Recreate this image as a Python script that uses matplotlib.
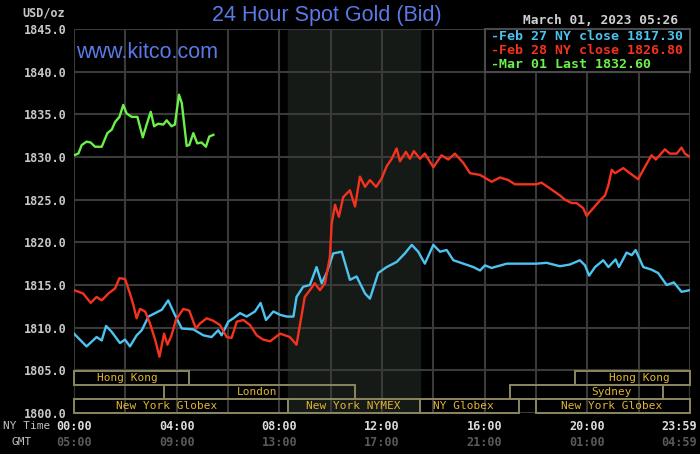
import matplotlib
matplotlib.use('Agg')
import matplotlib.pyplot as plt
import matplotlib.patches as mpatches

# Feb 27 NY close 1817.30 (голубая линия)
feb27_hours = [0.0, 0.49, 0.88, 1.08, 1.25, 1.47, 1.79, 1.99, 2.18, 2.44, 2.64, 2.9, 3.16, 3.42,
               3.67, 3.93, 4.2, 4.65, 5.04, 5.36, 5.62, 5.75, 6.01, 6.21, 6.47, 6.73, 7.05, 7.27,
               7.48, 7.77, 8.03, 8.3, 8.55, 8.67, 8.93, 9.19, 9.45, 9.65, 9.84, 10.1, 10.43,
               10.75, 11.01, 11.34, 11.53, 11.85, 12.18, 12.57, 12.89, 13.16, 13.41, 13.67,
               14.0, 14.26, 14.52, 14.78, 15.17, 15.56, 15.82, 16.01, 16.27, 16.86, 18.02,
               18.41, 18.93, 19.32, 19.71, 19.91, 20.07, 20.3, 20.62, 20.82, 21.1, 21.23,
               21.53, 21.73, 21.88, 22.18, 22.5, 22.76, 23.09, 23.37, 23.67, 24.0]
feb27_price = [1809.3, 1807.8, 1808.9, 1808.5, 1810.2, 1809.5, 1808.2, 1808.6, 1807.8, 1809.1,
               1809.7, 1811.3, 1811.7, 1812.1, 1813.2, 1811.5, 1809.9, 1809.8, 1809.1, 1808.9,
               1809.7, 1809.1, 1810.7, 1811.1, 1811.7, 1811.3, 1811.9, 1812.9, 1810.9, 1811.9,
               1811.5, 1811.3, 1811.3, 1813.6, 1814.8, 1815.0, 1817.1, 1815.2, 1816.4, 1818.7,
               1818.9, 1815.6, 1816.0, 1814.0, 1813.4, 1816.4, 1817.1, 1817.7, 1818.7, 1819.7,
               1818.9, 1817.5, 1819.7, 1818.9, 1819.1, 1817.9, 1817.5, 1817.1, 1816.7, 1817.3,
               1817.0, 1817.5, 1817.5, 1817.6, 1817.2, 1817.4, 1817.9, 1817.3, 1816.1, 1817.1,
               1817.9, 1817.1, 1818.0, 1817.1, 1818.8, 1818.5, 1819.1, 1817.1, 1816.8, 1816.4,
               1815.0, 1815.3, 1814.2, 1814.4]

# Feb 28 NY close 1826.80 (красная линия)
feb28_hours = [0.0, 0.36, 0.65, 0.88, 1.08, 1.34, 1.6, 1.77, 1.99, 2.18, 2.31, 2.44, 2.57, 2.77,
               2.96, 3.16, 3.33, 3.51, 3.64, 3.8, 3.97, 4.26, 4.49, 4.75, 4.91, 5.17, 5.43,
               5.69, 5.95, 6.14, 6.34, 6.6, 6.86, 7.12, 7.37, 7.64, 8.03, 8.41, 8.67, 8.86,
               8.99, 9.19, 9.38, 9.58, 9.78, 9.97, 10.04, 10.17, 10.32, 10.49, 10.75, 10.95,
               11.14, 11.34, 11.53, 11.77, 11.99, 12.18, 12.38, 12.57, 12.7, 12.93, 13.09,
               13.24, 13.48, 13.67, 14.0, 14.32, 14.58, 14.84, 15.17, 15.43, 15.82, 16.27,
               16.6, 16.92, 17.18, 18.02, 18.21, 18.6, 18.93, 19.13, 19.39, 19.58, 19.84,
               19.97, 20.23, 20.49, 20.69, 20.82, 20.95, 21.08, 21.4, 21.66, 21.98, 22.18,
               22.5, 22.67, 23.02, 23.21, 23.48, 23.67, 23.8, 24.0]
feb28_price = [1814.4, 1814.0, 1812.9, 1813.6, 1813.2, 1814.0, 1814.6, 1815.8, 1815.7, 1814.0,
               1812.7, 1811.1, 1812.2, 1811.9, 1810.5, 1808.6, 1806.6, 1809.3, 1808.0, 1809.1,
               1810.9, 1812.2, 1812.0, 1809.9, 1810.5, 1811.1, 1810.8, 1810.3, 1808.9, 1808.8,
               1810.7, 1810.9, 1810.3, 1809.1, 1808.6, 1808.4, 1809.3, 1808.9, 1808.0, 1811.3,
               1813.6, 1814.4, 1815.2, 1814.4, 1815.2, 1818.3, 1822.2, 1824.4, 1823.0, 1825.3,
               1826.1, 1824.2, 1827.7, 1826.5, 1827.3, 1826.5, 1827.5, 1828.9, 1829.8, 1831.0,
               1829.5, 1830.6, 1829.8, 1830.7, 1829.8, 1830.4, 1828.8, 1830.2, 1829.7, 1830.4,
               1829.3, 1828.1, 1827.9, 1827.1, 1827.6, 1827.3, 1826.8, 1826.8, 1827.0, 1826.2,
               1825.5, 1825.0, 1824.6, 1824.6, 1824.0, 1823.1, 1824.0, 1824.9, 1825.5, 1826.7,
               1828.5, 1828.1, 1828.7, 1828.1, 1827.4, 1828.5, 1830.2, 1829.7, 1830.9, 1830.4,
               1830.4, 1831.1, 1830.4, 1830.0]

# Mar 01 Last 1832.60 (зелёная линия, до 05:26)
mar01_hours = [0.0, 0.17, 0.3, 0.49, 0.65, 0.82, 1.08, 1.3, 1.47, 1.6, 1.77, 1.92, 2.05, 2.25,
               2.47, 2.68, 2.83, 2.99, 3.12, 3.28, 3.48, 3.61, 3.8, 3.93, 4.09, 4.2, 4.39,
               4.49, 4.65, 4.8, 4.97, 5.14, 5.27, 5.43]
mar01_price = [1830.2, 1830.4, 1831.4, 1831.8, 1831.7, 1831.2, 1831.2, 1832.8, 1833.2, 1834.1,
               1834.7, 1836.1, 1835.1, 1834.7, 1834.7, 1832.3, 1833.8, 1835.3, 1833.6, 1833.9,
               1833.8, 1834.3, 1833.6, 1833.8, 1837.3, 1836.3, 1831.3, 1831.4, 1832.8, 1831.6,
               1831.7, 1831.2, 1832.4, 1832.6]

legend_labels = ['-Feb 27 NY close 1817.30', '-Feb 28 NY close 1826.80', '-Mar 01 Last 1832.60']

ny_ticks = ['00:00', '04:00', '08:00', '12:00', '16:00', '20:00', '23:59']
gmt_ticks = ['05:00', '09:00', '13:00', '17:00', '21:00', '01:00', '04:59']
tick_hours = [0, 4, 8, 12, 16, 20, 24]

# торговые сессии: название, ряд (0 - верхний), начало, конец, позиция подписи
sess_names = ['Hong Kong', 'London', 'New York Globex', 'New York NYMEX', 'NY Globex',
              'Hong Kong', 'Sydney', 'New York Globex']
sess_rows = [0, 1, 2, 2, 2, 0, 1, 2]
sess_start = [0.0, 3.5, 0.0, 8.33, 13.5, 19.5, 17.0, 18.0]
sess_end = [4.47, 10.95, 8.33, 13.5, 17.33, 24.0, 22.95, 24.0]
sess_label = [2.09, 7.15, 3.61, 10.88, 15.17, 22.04, 20.95, 20.95]

blue_c = '#4cc3f0'
red_c = '#f5321e'
green_c = '#6cf04a'
grid_c = '#3a3a3a'
box_c = '#8a8760'
sess_txt_c = '#e0b535'
mono = 'DejaVu Sans Mono'

fig = plt.figure(figsize=(7, 4.54), dpi=100, facecolor='black')
ax = fig.add_axes([74 / 700, 1 - 413 / 454, 616 / 700, 384 / 454])
ax.set_facecolor('black')
ax.set_xlim(0, 24)
ax.set_ylim(1800, 1845)

# NYMEX часы
ax.axvspan(8.33, 13.5, color='#161a16', zorder=0)

ax.set_xticks(range(0, 25, 2))
ax.set_yticks(range(1800, 1846, 5))
ax.grid(True, color=grid_c, linewidth=1.5, zorder=1)
ax.tick_params(length=0, labelbottom=False)
ax.set_yticklabels([f'{v:.1f}' for v in range(1800, 1846, 5)])
for lbl in ax.get_yticklabels():
    lbl.set_fontfamily(mono)
    lbl.set_fontweight('bold')
    lbl.set_fontsize(8.5)
    lbl.set_color('#c8c8c8')
ax.tick_params(axis='y', pad=5)
for s in ax.spines.values():
    s.set_visible(False)

ax.plot(feb27_hours, feb27_price, color=blue_c, linewidth=1.7, zorder=3)
ax.plot(feb28_hours, feb28_price, color=red_c, linewidth=1.7, zorder=3)
ax.plot(mar01_hours, mar01_price, color=green_c, linewidth=1.7, zorder=4)

# блоки сессий внизу графика
row_h = 14 / 384
for name, row, t0, t1, tl in zip(sess_names, sess_rows, sess_start, sess_end, sess_label):
    y0 = 3 * row_h - row_h * (row + 1)
    rect = mpatches.Rectangle((t0, y0), t1 - t0, row_h, fill=False, edgecolor=box_c,
                              linewidth=1.4, transform=ax.get_xaxis_transform(), zorder=2,
                              clip_on=False)
    ax.add_patch(rect)
    ax.text(tl, y0 + row_h / 2, name, transform=ax.get_xaxis_transform(), ha='center',
            va='center', fontsize=8, family=mono, color=sess_txt_c, zorder=5)

# подписи времени
for h, ny, gmt in zip(tick_hours, ny_ticks, gmt_ticks):
    ha = 'center' if h < 24 else 'right'
    x = h if h < 24 else 24.27
    ax.text(x, -0.035, ny, transform=ax.get_xaxis_transform(), ha=ha, va='center',
            fontsize=8.5, family=mono, fontweight='bold', color='#dcdcdc')
    ax.text(x, -0.077, gmt, transform=ax.get_xaxis_transform(), ha=ha, va='center',
            fontsize=8.5, family=mono, fontweight='bold', color='#5a5a5a')
fig.text(3 / 700, 1 - 426 / 454, 'NY Time', ha='left', va='center', fontsize=8,
         family=mono, color='#c0c0c0')
fig.text(12 / 700, 1 - 442 / 454, 'GMT', ha='left', va='center', fontsize=8,
         family=mono, color='#c0c0c0')

# заголовки
fig.text(326.5 / 700, 1 - 15 / 454, '24 Hour Spot Gold (Bid)', ha='center', va='center',
         fontsize=15.5, family='Liberation Sans', color='#5a7ae8')
fig.text(76 / 700, 1 - 52 / 454, 'www.kitco.com', ha='left', va='center',
         fontsize=15.5, family='Liberation Sans', color='#5a7ae8')
fig.text(22 / 700, 1 - 13 / 454, 'USD/oz', ha='left', va='center', fontsize=8.5,
         family=mono, fontweight='bold', color='#c8c8c8')
fig.text(678 / 700, 1 - 21 / 454, 'March 01, 2023 05:26', ha='right', va='center',
         fontsize=9.3, family=mono, fontweight='bold', color='#d0d0d0')

# легенда
leg_box = mpatches.Rectangle((485 / 700, 1 - 72 / 454), 205 / 700, 43 / 454,
                             transform=fig.transFigure, facecolor='black',
                             edgecolor='#4a4a4a', linewidth=1.5, zorder=10)
fig.patches.append(leg_box)
for i, (lab, c) in enumerate(zip(legend_labels, [blue_c, red_c, green_c])):
    fig.text(491 / 700, 1 - (36.7 + 13.8 * i) / 454, lab, ha='left', va='center',
             fontsize=9.5, family=mono, fontweight='bold', color=c, zorder=11)

fig.savefig('out.png', dpi=100, facecolor='black')
